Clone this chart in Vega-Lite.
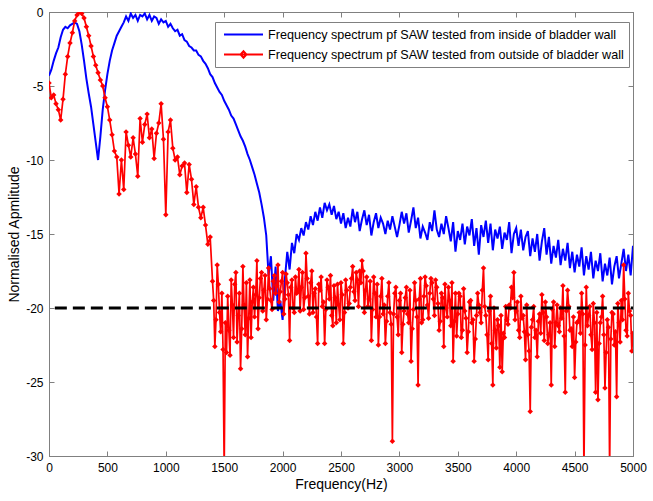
{
  "$schema": "https://vega.github.io/schema/vega-lite/v6.json",
  "width": 584,
  "height": 444,
  "autosize": {"type": "none"},
  "padding": {"left": 49, "top": 12, "right": 20, "bottom": 45},
  "background": "white",
  "config": {
    "font": "Liberation Sans",
    "view": {"stroke": "#808080", "strokeWidth": 1},
    "axis": {
      "grid": false,
      "domainColor": "#808080",
      "tickColor": "#808080",
      "labelColor": "black",
      "titleColor": "black",
      "labelFont": "Liberation Sans",
      "titleFont": "Liberation Sans",
      "labelFontSize": 12,
      "titleFontSize": 14,
      "titleFontWeight": "normal",
      "labelFlush": false,
      "labelOverlap": false,
      "tickSize": -5
    }
  },
  "datasets": {
    "blue": [
      {"f":0,"v":-4.3},{"f":20,"v":-3.9},{"f":40,"v":-3.3},{"f":60,"v":-2.8},{"f":80,"v":-2.4},{"f":100,"v":-1.7},{"f":120,"v":-1.2},{"f":140,"v":-1.0},{"f":160,"v":-1.1},{"f":180,"v":-0.9},
      {"f":200,"v":-0.8},{"f":220,"v":-0.7},{"f":240,"v":-0.8},{"f":260,"v":-1.3},{"f":280,"v":-2.2},{"f":300,"v":-3.3},{"f":320,"v":-4.5},{"f":340,"v":-5.5},{"f":360,"v":-6.4},{"f":380,"v":-7.6},
      {"f":400,"v":-8.8},{"f":420,"v":-10.0},{"f":440,"v":-8.4},{"f":460,"v":-6.6},{"f":480,"v":-5.3},{"f":500,"v":-4.2},{"f":520,"v":-3.3},{"f":540,"v":-2.6},{"f":560,"v":-2.1},{"f":580,"v":-1.6},
      {"f":600,"v":-1.3},{"f":620,"v":-1.0},{"f":640,"v":-0.7},{"f":660,"v":-0.3},{"f":680,"v":-0.6},{"f":700,"v":-0.1},{"f":720,"v":-0.4},{"f":740,"v":-0.2},{"f":760,"v":-0.6},{"f":780,"v":-0.2},
      {"f":800,"v":-0.3},{"f":820,"v":-0.1},{"f":840,"v":-0.5},{"f":860,"v":-0.2},{"f":880,"v":-0.6},{"f":900,"v":-0.3},{"f":920,"v":-0.4},{"f":940,"v":-0.8},{"f":960,"v":-0.5},{"f":980,"v":-0.7},
      {"f":1000,"v":-0.6},{"f":1020,"v":-1.0},{"f":1040,"v":-0.8},{"f":1060,"v":-1.1},{"f":1080,"v":-1.3},{"f":1100,"v":-1.2},{"f":1120,"v":-1.6},{"f":1140,"v":-1.5},{"f":1160,"v":-1.9},{"f":1180,"v":-2.0},
      {"f":1200,"v":-2.3},{"f":1220,"v":-2.4},{"f":1240,"v":-2.6},{"f":1260,"v":-2.6},{"f":1280,"v":-2.9},{"f":1300,"v":-3.0},{"f":1320,"v":-3.3},{"f":1340,"v":-3.5},{"f":1360,"v":-3.8},{"f":1380,"v":-4.2},
      {"f":1400,"v":-4.4},{"f":1420,"v":-4.8},{"f":1440,"v":-5.1},{"f":1460,"v":-5.4},{"f":1480,"v":-5.6},{"f":1500,"v":-6.0},{"f":1520,"v":-6.3},{"f":1540,"v":-6.6},{"f":1560,"v":-7.0},{"f":1580,"v":-7.2},
      {"f":1600,"v":-7.6},{"f":1620,"v":-8.0},{"f":1640,"v":-8.4},{"f":1660,"v":-8.7},{"f":1680,"v":-9.1},{"f":1700,"v":-9.6},{"f":1720,"v":-10.0},{"f":1740,"v":-10.5},{"f":1760,"v":-11.0},{"f":1780,"v":-11.6},
      {"f":1800,"v":-12.2},{"f":1820,"v":-13.0},{"f":1840,"v":-13.9},{"f":1860,"v":-15.1},{"f":1880,"v":-17.8},{"f":1900,"v":-16.5},{"f":1920,"v":-19.5},{"f":1940,"v":-17.2},{"f":1960,"v":-20.2},{"f":1980,"v":-19.5},
      {"f":2000,"v":-20.8},{"f":2020,"v":-18.0},{"f":2040,"v":-16.2},{"f":2060,"v":-17.4},{"f":2080,"v":-15.6},{"f":2100,"v":-16.3},{"f":2120,"v":-15.0},{"f":2140,"v":-15.4},{"f":2160,"v":-14.6},{"f":2180,"v":-15.1},
      {"f":2200,"v":-14.2},{"f":2220,"v":-14.7},{"f":2240,"v":-13.8},{"f":2260,"v":-14.4},{"f":2280,"v":-13.5},{"f":2300,"v":-14.1},{"f":2320,"v":-13.2},{"f":2340,"v":-13.9},{"f":2360,"v":-12.9},{"f":2380,"v":-13.4},
      {"f":2400,"v":-13.0},{"f":2420,"v":-13.7},{"f":2440,"v":-13.1},{"f":2460,"v":-14.0},{"f":2480,"v":-13.5},{"f":2500,"v":-14.3},{"f":2520,"v":-13.6},{"f":2540,"v":-14.6},{"f":2560,"v":-13.9},{"f":2580,"v":-14.5},
      {"f":2600,"v":-13.3},{"f":2620,"v":-14.2},{"f":2640,"v":-13.5},{"f":2660,"v":-14.8},{"f":2680,"v":-14.0},{"f":2700,"v":-13.4},{"f":2720,"v":-14.4},{"f":2740,"v":-13.7},{"f":2760,"v":-15.1},{"f":2780,"v":-14.2},
      {"f":2800,"v":-13.6},{"f":2820,"v":-14.6},{"f":2840,"v":-13.9},{"f":2860,"v":-14.3},{"f":2880,"v":-15.0},{"f":2900,"v":-14.1},{"f":2920,"v":-14.7},{"f":2940,"v":-13.8},{"f":2960,"v":-14.5},{"f":2980,"v":-15.2},
      {"f":3000,"v":-14.4},{"f":3020,"v":-13.5},{"f":3040,"v":-14.3},{"f":3060,"v":-13.6},{"f":3080,"v":-14.9},{"f":3100,"v":-14.1},{"f":3120,"v":-13.2},{"f":3140,"v":-14.6},{"f":3160,"v":-13.9},{"f":3180,"v":-15.3},
      {"f":3200,"v":-14.5},{"f":3220,"v":-14.9},{"f":3240,"v":-15.4},{"f":3260,"v":-14.2},{"f":3280,"v":-14.8},{"f":3300,"v":-13.4},{"f":3320,"v":-14.7},{"f":3340,"v":-15.2},{"f":3360,"v":-14.3},{"f":3380,"v":-15.0},
      {"f":3400,"v":-13.8},{"f":3420,"v":-14.6},{"f":3440,"v":-15.5},{"f":3460,"v":-14.2},{"f":3480,"v":-16.2},{"f":3500,"v":-14.8},{"f":3520,"v":-15.4},{"f":3540,"v":-14.3},{"f":3560,"v":-15.7},{"f":3580,"v":-14.5},
      {"f":3600,"v":-15.1},{"f":3620,"v":-14.0},{"f":3640,"v":-15.8},{"f":3660,"v":-14.6},{"f":3680,"v":-16.4},{"f":3700,"v":-14.4},{"f":3720,"v":-15.2},{"f":3740,"v":-14.1},{"f":3760,"v":-15.6},{"f":3780,"v":-14.3},
      {"f":3800,"v":-16.1},{"f":3820,"v":-14.7},{"f":3840,"v":-15.3},{"f":3860,"v":-14.5},{"f":3880,"v":-16.0},{"f":3900,"v":-14.9},{"f":3920,"v":-15.4},{"f":3940,"v":-14.2},{"f":3960,"v":-16.3},{"f":3980,"v":-15.0},
      {"f":4000,"v":-14.6},{"f":4020,"v":-15.8},{"f":4040,"v":-14.7},{"f":4060,"v":-16.1},{"f":4080,"v":-15.2},{"f":4100,"v":-14.8},{"f":4120,"v":-16.5},{"f":4140,"v":-15.3},{"f":4160,"v":-16.2},{"f":4180,"v":-15.0},
      {"f":4200,"v":-16.8},{"f":4220,"v":-15.5},{"f":4240,"v":-14.6},{"f":4260,"v":-16.4},{"f":4280,"v":-15.2},{"f":4300,"v":-17.0},{"f":4320,"v":-15.8},{"f":4340,"v":-16.6},{"f":4360,"v":-15.4},{"f":4380,"v":-17.1},
      {"f":4400,"v":-16.0},{"f":4420,"v":-16.8},{"f":4440,"v":-15.6},{"f":4460,"v":-17.3},{"f":4480,"v":-16.2},{"f":4500,"v":-17.6},{"f":4520,"v":-16.4},{"f":4540,"v":-17.2},{"f":4560,"v":-15.9},{"f":4580,"v":-17.8},
      {"f":4600,"v":-16.5},{"f":4620,"v":-17.4},{"f":4640,"v":-16.2},{"f":4660,"v":-18.0},{"f":4680,"v":-16.8},{"f":4700,"v":-17.5},{"f":4720,"v":-16.3},{"f":4740,"v":-18.2},{"f":4760,"v":-17.0},{"f":4780,"v":-17.8},
      {"f":4800,"v":-16.6},{"f":4820,"v":-18.4},{"f":4840,"v":-17.2},{"f":4860,"v":-16.5},{"f":4880,"v":-18.0},{"f":4900,"v":-17.0},{"f":4920,"v":-16.0},{"f":4940,"v":-17.5},{"f":4960,"v":-16.4},{"f":4980,"v":-17.8},
      {"f":5000,"v":-15.8}
    ],
    "red": [
      {"f":0,"v":-4.8},{"f":20,"v":-5.8},{"f":40,"v":-5.6},{"f":60,"v":-6.2},{"f":80,"v":-6.6},{"f":100,"v":-7.3},{"f":120,"v":-5.9},{"f":140,"v":-4.2},{"f":160,"v":-3.0},{"f":180,"v":-2.1},
      {"f":200,"v":-1.4},{"f":220,"v":-0.6},{"f":240,"v":-0.2},{"f":260,"v":0.0},{"f":280,"v":-0.1},{"f":300,"v":-0.4},{"f":320,"v":-1.0},{"f":340,"v":-1.6},{"f":360,"v":-2.3},{"f":380,"v":-3.0},
      {"f":400,"v":-3.6},{"f":420,"v":-4.1},{"f":440,"v":-4.6},{"f":460,"v":-5.0},{"f":480,"v":-5.8},{"f":500,"v":-6.4},{"f":520,"v":-7.3},{"f":540,"v":-8.3},{"f":560,"v":-9.4},{"f":580,"v":-9.8},
      {"f":600,"v":-12.3},{"f":620,"v":-10.0},{"f":640,"v":-12.0},{"f":660,"v":-8.1},{"f":680,"v":-9.0},{"f":700,"v":-9.8},{"f":720,"v":-8.5},{"f":740,"v":-9.6},{"f":760,"v":-11.1},{"f":780,"v":-7.2},
      {"f":800,"v":-8.8},{"f":820,"v":-7.6},{"f":840,"v":-6.9},{"f":860,"v":-8.5},{"f":880,"v":-7.9},{"f":900,"v":-9.9},{"f":920,"v":-8.2},{"f":940,"v":-7.5},{"f":960,"v":-6.2},{"f":980,"v":-8.6},
      {"f":1000,"v":-13.7},{"f":1020,"v":-8.1},{"f":1040,"v":-7.3},{"f":1060,"v":-9.2},{"f":1080,"v":-10.0},{"f":1100,"v":-9.8},{"f":1120,"v":-11.0},{"f":1140,"v":-10.4},{"f":1160,"v":-10.2},{"f":1180,"v":-12.2},
      {"f":1200,"v":-10.3},{"f":1220,"v":-11.3},{"f":1240,"v":-13.0},{"f":1260,"v":-11.8},{"f":1280,"v":-13.2},{"f":1300,"v":-13.9},{"f":1320,"v":-13.2},{"f":1340,"v":-14.4},{"f":1360,"v":-15.7},{"f":1380,"v":-15.2},
      {"f":1400,"v":-18.2},{"f":1420,"v":-22.6},{"f":1440,"v":-17.1},{"f":1460,"v":-20.3},{"f":1480,"v":-19.0},{"f":1500,"v":-31.0},{"f":1520,"v":-23.0},{"f":1540,"v":-21.5},{"f":1560,"v":-18.1},{"f":1580,"v":-22.0},
      {"f":1600,"v":-17.6},{"f":1620,"v":-20.5},{"f":1640,"v":-24.1},{"f":1660,"v":-17.2},{"f":1680,"v":-21.8},{"f":1700,"v":-23.3},{"f":1720,"v":-18.1},{"f":1740,"v":-19.6},{"f":1760,"v":-20.6},{"f":1780,"v":-16.8},
      {"f":1800,"v":-19.3},{"f":1820,"v":-17.6},{"f":1840,"v":-18.8},{"f":1860,"v":-20.8},{"f":1880,"v":-17.3},{"f":1900,"v":-19.5},{"f":1920,"v":-18.2},{"f":1940,"v":-19.0},{"f":1960,"v":-17.1},{"f":1980,"v":-18.9},
      {"f":2000,"v":-17.6},{"f":2020,"v":-19.4},{"f":2040,"v":-18.3},{"f":2060,"v":-22.2},{"f":2080,"v":-18.1},{"f":2100,"v":-20.3},{"f":2120,"v":-19.0},{"f":2140,"v":-17.4},{"f":2160,"v":-18.6},{"f":2180,"v":-20.1},
      {"f":2200,"v":-16.3},{"f":2220,"v":-19.2},{"f":2240,"v":-18.3},{"f":2260,"v":-20.3},{"f":2280,"v":-18.7},{"f":2300,"v":-22.4},{"f":2320,"v":-18.8},{"f":2340,"v":-19.9},{"f":2360,"v":-22.4},{"f":2380,"v":-18.1},
      {"f":2400,"v":-19.4},{"f":2420,"v":-20.5},{"f":2440,"v":-18.5},{"f":2460,"v":-21.0},{"f":2480,"v":-19.8},{"f":2500,"v":-18.3},{"f":2520,"v":-22.4},{"f":2540,"v":-18.1},{"f":2560,"v":-20.0},{"f":2580,"v":-18.6},
      {"f":2600,"v":-17.2},{"f":2620,"v":-19.5},{"f":2640,"v":-18.1},{"f":2660,"v":-17.5},{"f":2680,"v":-16.8},{"f":2700,"v":-20.3},{"f":2720,"v":-17.9},{"f":2740,"v":-19.4},{"f":2760,"v":-22.2},{"f":2780,"v":-17.9},
      {"f":2800,"v":-20.6},{"f":2820,"v":-22.5},{"f":2840,"v":-19.2},{"f":2860,"v":-20.4},{"f":2880,"v":-22.4},{"f":2900,"v":-19.2},{"f":2920,"v":-20.3},{"f":2940,"v":-29.0},{"f":2960,"v":-19.0},{"f":2980,"v":-20.6},
      {"f":3000,"v":-19.5},{"f":3020,"v":-23.0},{"f":3040,"v":-20.2},{"f":3060,"v":-18.6},{"f":3080,"v":-21.0},{"f":3100,"v":-23.6},{"f":3120,"v":-20.1},{"f":3140,"v":-19.5},{"f":3160,"v":-25.2},{"f":3180,"v":-18.0},
      {"f":3200,"v":-20.8},{"f":3220,"v":-17.9},{"f":3240,"v":-19.8},{"f":3260,"v":-19.0},{"f":3280,"v":-18.3},{"f":3300,"v":-20.5},{"f":3320,"v":-18.6},{"f":3340,"v":-21.5},{"f":3360,"v":-19.0},{"f":3380,"v":-22.6},
      {"f":3400,"v":-20.0},{"f":3420,"v":-18.6},{"f":3440,"v":-21.2},{"f":3460,"v":-23.6},{"f":3480,"v":-19.0},{"f":3500,"v":-20.4},{"f":3520,"v":-19.2},{"f":3540,"v":-21.5},{"f":3560,"v":-20.2},{"f":3580,"v":-23.0},
      {"f":3600,"v":-19.6},{"f":3620,"v":-21.0},{"f":3640,"v":-23.6},{"f":3660,"v":-20.5},{"f":3680,"v":-19.8},{"f":3700,"v":-21.0},{"f":3720,"v":-17.3},{"f":3740,"v":-20.5},{"f":3760,"v":-23.5},{"f":3780,"v":-19.2},
      {"f":3800,"v":-25.2},{"f":3820,"v":-21.5},{"f":3840,"v":-20.8},{"f":3860,"v":-24.0},{"f":3880,"v":-24.3},{"f":3900,"v":-22.0},{"f":3920,"v":-20.8},{"f":3940,"v":-19.8},{"f":3960,"v":-18.6},{"f":3980,"v":-17.6},
      {"f":4000,"v":-20.2},{"f":4020,"v":-21.5},{"f":4040,"v":-19.2},{"f":4060,"v":-20.5},{"f":4080,"v":-23.5},{"f":4100,"v":-21.8},{"f":4120,"v":-27.0},{"f":4140,"v":-20.8},{"f":4160,"v":-22.0},{"f":4180,"v":-23.3},
      {"f":4200,"v":-20.4},{"f":4220,"v":-19.1},{"f":4240,"v":-22.2},{"f":4260,"v":-20.6},{"f":4280,"v":-21.8},{"f":4300,"v":-25.2},{"f":4320,"v":-19.6},{"f":4340,"v":-21.0},{"f":4360,"v":-21.2},{"f":4380,"v":-20.0},
      {"f":4400,"v":-18.5},{"f":4420,"v":-25.7},{"f":4440,"v":-18.8},{"f":4460,"v":-21.5},{"f":4480,"v":-22.6},{"f":4500,"v":-24.7},{"f":4520,"v":-21.0},{"f":4540,"v":-20.3},{"f":4560,"v":-19.0},{"f":4580,"v":-31.0},
      {"f":4600,"v":-18.6},{"f":4620,"v":-20.5},{"f":4640,"v":-21.8},{"f":4660,"v":-19.7},{"f":4680,"v":-25.7},{"f":4700,"v":-26.2},{"f":4720,"v":-21.0},{"f":4740,"v":-19.2},{"f":4760,"v":-25.4},{"f":4780,"v":-20.8},
      {"f":4800,"v":-31.0},{"f":4820,"v":-20.3},{"f":4840,"v":-22.5},{"f":4860,"v":-26.0},{"f":4880,"v":-21.0},{"f":4900,"v":-19.5},{"f":4920,"v":-17.1},{"f":4940,"v":-21.5},{"f":4960,"v":-19.0},{"f":4980,"v":-20.5},
      {"f":5000,"v":-21.7},
      {"f":1410,"v":-19.5},{"f":1430,"v":-20.8},{"f":1450,"v":-18.4},{"f":1470,"v":-21.6},{"f":1490,"v":-22.8},{"f":1510,"v":-21.0},{"f":1530,"v":-19.2},{"f":1550,"v":-23.2},{"f":1570,"v":-19.8},{"f":1590,"v":-18.4},
      {"f":1610,"v":-22.3},{"f":1630,"v":-19.0},{"f":1650,"v":-21.4},{"f":1670,"v":-19.8},{"f":1690,"v":-18.3},{"f":1710,"v":-20.7},{"f":1730,"v":-22.0},{"f":1750,"v":-18.6},{"f":1770,"v":-19.1},{"f":1790,"v":-21.4},
      {"f":1810,"v":-18.0},{"f":1830,"v":-20.2},{"f":1850,"v":-17.8},{"f":1870,"v":-19.4},{"f":1890,"v":-18.7},{"f":1910,"v":-20.1},{"f":1930,"v":-17.8},{"f":1950,"v":-18.5},{"f":1970,"v":-19.6},{"f":1990,"v":-18.2},
      {"f":2010,"v":-20.4},{"f":2030,"v":-17.7},{"f":2050,"v":-19.1},{"f":2070,"v":-18.6},{"f":2090,"v":-20.0},{"f":2110,"v":-17.9},{"f":2130,"v":-18.9},{"f":2150,"v":-20.2},{"f":2170,"v":-17.6},{"f":2190,"v":-19.3},
      {"f":2210,"v":-18.0},{"f":2230,"v":-20.4},{"f":2250,"v":-17.5},{"f":2270,"v":-19.0},{"f":2290,"v":-20.6},{"f":2310,"v":-18.4},{"f":2330,"v":-17.9},{"f":2350,"v":-19.6},{"f":2370,"v":-20.1},{"f":2390,"v":-18.6},
      {"f":2410,"v":-17.8},{"f":2430,"v":-21.2},{"f":2450,"v":-19.3},{"f":2470,"v":-18.4},{"f":2490,"v":-20.8},{"f":2510,"v":-19.1},{"f":2530,"v":-20.3},{"f":2550,"v":-18.8},{"f":2570,"v":-19.7},{"f":2590,"v":-18.0},
      {"f":2610,"v":-18.9},{"f":2630,"v":-17.6},{"f":2650,"v":-19.9},{"f":2670,"v":-18.3},{"f":2690,"v":-17.5},{"f":2710,"v":-18.8},{"f":2730,"v":-19.9},{"f":2750,"v":-18.2},{"f":2770,"v":-20.1},{"f":2790,"v":-19.0},
      {"f":2810,"v":-18.4},{"f":2830,"v":-20.6},{"f":2850,"v":-18.0},{"f":2870,"v":-19.8},{"f":2890,"v":-20.9},{"f":2910,"v":-18.3},{"f":2930,"v":-21.1},{"f":2950,"v":-20.4},{"f":2970,"v":-18.6},{"f":2990,"v":-21.8},
      {"f":3010,"v":-19.0},{"f":3030,"v":-21.1},{"f":3050,"v":-19.3},{"f":3070,"v":-20.4},{"f":3090,"v":-18.8},{"f":3110,"v":-21.4},{"f":3130,"v":-18.3},{"f":3150,"v":-20.6},{"f":3170,"v":-19.4},{"f":3190,"v":-21.0},
      {"f":3210,"v":-19.2},{"f":3230,"v":-18.5},{"f":3250,"v":-20.7},{"f":3270,"v":-18.0},{"f":3290,"v":-19.4},{"f":3310,"v":-18.1},{"f":3330,"v":-19.7},{"f":3350,"v":-20.9},{"f":3370,"v":-19.3},{"f":3390,"v":-18.4},
      {"f":3410,"v":-20.6},{"f":3430,"v":-19.5},{"f":3450,"v":-18.3},{"f":3470,"v":-20.9},{"f":3490,"v":-21.9},{"f":3510,"v":-19.0},{"f":3530,"v":-22.0},{"f":3550,"v":-18.7},{"f":3570,"v":-20.7},{"f":3590,"v":-21.6},
      {"f":3610,"v":-19.5},{"f":3630,"v":-20.8},{"f":3650,"v":-22.1},{"f":3670,"v":-19.0},{"f":3690,"v":-20.3},{"f":3710,"v":-18.8},{"f":3730,"v":-19.9},{"f":3750,"v":-21.8},{"f":3770,"v":-20.2},{"f":3790,"v":-22.4},
      {"f":3810,"v":-20.0},{"f":3830,"v":-22.7},{"f":3850,"v":-21.2},{"f":3870,"v":-20.5},{"f":3890,"v":-21.7},{"f":3910,"v":-19.9},{"f":3930,"v":-21.1},{"f":3950,"v":-20.0},{"f":3970,"v":-19.3},{"f":3990,"v":-20.8},
      {"f":4010,"v":-19.6},{"f":4030,"v":-22.0},{"f":4050,"v":-20.7},{"f":4070,"v":-21.6},{"f":4090,"v":-19.8},{"f":4110,"v":-22.9},{"f":4130,"v":-21.3},{"f":4150,"v":-19.9},{"f":4170,"v":-21.5},{"f":4190,"v":-20.9},
      {"f":4210,"v":-21.7},{"f":4230,"v":-20.3},{"f":4250,"v":-19.6},{"f":4270,"v":-22.4},{"f":4290,"v":-21.0},{"f":4310,"v":-20.1},{"f":4330,"v":-22.6},{"f":4350,"v":-19.8},{"f":4370,"v":-21.6},{"f":4390,"v":-20.7},
      {"f":4410,"v":-21.9},{"f":4430,"v":-20.2},{"f":4450,"v":-19.9},{"f":4470,"v":-21.4},{"f":4490,"v":-20.6},{"f":4510,"v":-22.3},{"f":4530,"v":-20.9},{"f":4550,"v":-21.7},{"f":4570,"v":-20.4},{"f":4590,"v":-22.5},
      {"f":4610,"v":-21.2},{"f":4630,"v":-19.9},{"f":4650,"v":-22.8},{"f":4670,"v":-21.0},{"f":4690,"v":-20.3},{"f":4710,"v":-22.4},{"f":4730,"v":-20.6},{"f":4750,"v":-21.8},{"f":4770,"v":-23.0},{"f":4790,"v":-21.3},
      {"f":4810,"v":-22.1},{"f":4830,"v":-20.4},{"f":4850,"v":-21.6},{"f":4870,"v":-19.7},{"f":4890,"v":-22.3},{"f":4910,"v":-20.8},{"f":4930,"v":-19.4},{"f":4950,"v":-21.9},{"f":4970,"v":-20.2},{"f":4990,"v":-22.9}
    ],
    "threshold": [{"from": 50, "to": 5000, "level": -20}],
    "series": [
      {"series": "Frequency spectrum pf SAW tested from inside of bladder wall"},
      {"series": "Frequency spectrum pf SAW tested from outside of bladder wall"}
    ]
  },
  "layer": [
    {
      "data": {"name": "blue"},
      "mark": {"type": "line", "color": "#0000ff", "strokeWidth": 2, "clip": true},
      "encoding": {
        "x": {"field": "f", "type": "quantitative", "scale": {"domain": [0, 5000], "nice": false, "zero": false},
          "axis": {"orient": "bottom", "values": [0,500,1000,1500,2000,2500,3000,3500,4000,4500,5000], "labelExpr": "'' + datum.value", "labelPadding": 11, "title": "Frequency(Hz)", "titlePadding": 4}},
        "y": {"field": "v", "type": "quantitative", "scale": {"domain": [-30, 0], "nice": false, "zero": false},
          "axis": {"orient": "left", "values": [-30,-25,-20,-15,-10,-5,0], "labelExpr": "'' + datum.value", "labelPadding": 11, "title": "Normalised Apmlitude", "titlePadding": 4}}
      }
    },
    {
      "data": {"name": "red"},
      "mark": {"type": "line", "color": "#ff0000", "strokeWidth": 1.7, "clip": true},
      "encoding": {
        "x": {"field": "f", "type": "quantitative", "axis": null},
        "y": {"field": "v", "type": "quantitative", "axis": null}
      }
    },
    {
      "data": {"name": "red"},
      "mark": {"type": "point", "shape": "diamond", "filled": true, "color": "#ff0000", "size": 30, "opacity": 1, "clip": true},
      "encoding": {
        "x": {"field": "f", "type": "quantitative", "axis": null},
        "y": {"field": "v", "type": "quantitative", "axis": null}
      }
    },
    {
      "data": {"name": "threshold"},
      "mark": {"type": "rule", "color": "black", "strokeWidth": 3, "strokeDash": [12, 6]},
      "encoding": {
        "x": {"field": "from", "type": "quantitative",
          "axis": {"orient": "top", "values": [0,500,1000,1500,2000,2500,3000,3500,4000,4500,5000], "labels": false, "title": null}},
        "x2": {"field": "to"},
        "y": {"field": "level", "type": "quantitative",
          "axis": {"orient": "right", "values": [-30,-25,-20,-15,-10,-5,0], "labels": false, "title": null}}
      }
    },
    {
      "data": {"name": "series"},
      "transform": [{"filter": "datum.series == 'none'"}],
      "mark": {"type": "point", "filled": false, "strokeWidth": 2, "opacity": 1},
      "encoding": {
        "color": {"field": "series", "type": "nominal",
          "scale": {"domain": ["Frequency spectrum pf SAW tested from inside of bladder wall", "Frequency spectrum pf SAW tested from outside of bladder wall"], "range": ["#0000ff", "#ff0000"]},
          "legend": {"orient": "none", "legendX": 166, "legendY": 10, "title": null, "labelFont": "Liberation Sans", "labelFontSize": 12.6, "labelColor": "black", "labelLimit": 0,
            "symbolSize": 169, "symbolStrokeWidth": 2, "symbolOffset": 3, "labelOffset": 30, "strokeColor": "#808080", "fillColor": "white", "padding": 5, "rowPadding": 5}},
        "shape": {"field": "series", "type": "nominal",
          "scale": {"domain": ["Frequency spectrum pf SAW tested from inside of bladder wall", "Frequency spectrum pf SAW tested from outside of bladder wall"], "range": ["M-1,0H5", "M-1,0H5M1.55,0L2,-0.5L2.45,0L2,0.5Z"]},
          "legend": {"orient": "none", "legendX": 166, "legendY": 10, "title": null, "labelFont": "Liberation Sans", "labelFontSize": 12.6, "labelColor": "black", "labelLimit": 0,
            "symbolSize": 169, "symbolStrokeWidth": 2, "symbolOffset": 3, "labelOffset": 30, "strokeColor": "#808080", "fillColor": "white", "padding": 5, "rowPadding": 5}}
      }
    }
  ],
  "resolve": {"axis": {"x": "independent", "y": "independent"}}
}
